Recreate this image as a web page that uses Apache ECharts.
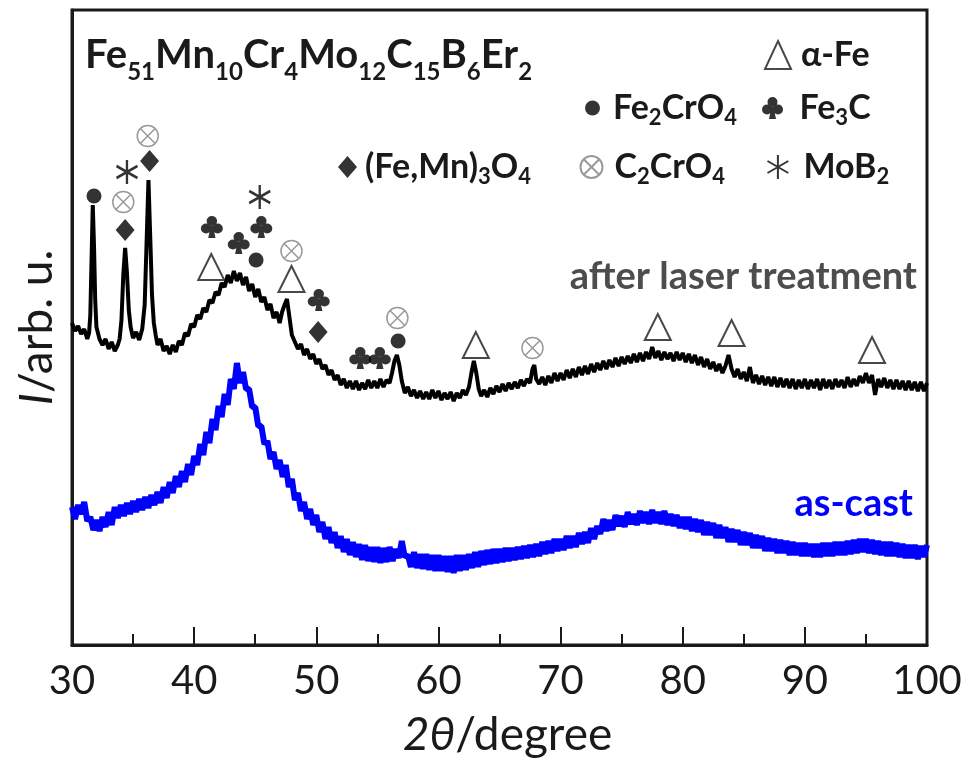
<!DOCTYPE html>
<html>
<head>
<meta charset="utf-8">
<script src="https://cdn.jsdelivr.net/npm/echarts@6/dist/echarts.min.js"></script>
<style>html,body{margin:0;padding:0;background:#fff}#c{width:968px;height:767px}</style>
</head>
<body>
<div id="c"></div>
<script>
// 2θ (degree) vs intensity (arb. units) — after laser treatment
const laser = [
[30.00,322],[30.25,314],[30.50,319],[30.75,311],[31.00,316],[31.25,306],[31.40,312],[31.50,330],[31.60,385],[31.70,440],[31.80,400],[31.90,345],[32.00,318],
[32.25,306],[32.50,300],[32.75,306],[33.00,296],[33.25,303],[33.50,294],[33.75,300],[33.90,306],[34.05,325],[34.20,370],[34.35,397],[34.50,372],[34.65,335],
[34.80,318],[35.00,307],[35.25,313],[35.50,305],[35.75,316],[35.95,340],[36.10,400],[36.26,465],[36.40,410],[36.55,350],[36.70,322],
[36.85,310],[37.00,300],[37.25,306],[37.50,294],[37.75,299],[38.00,291],[38.25,300],[38.50,293],[38.75,304],
[39.00,300],[39.25,312],[39.50,309],[39.75,321],[40.00,318],[40.25,330],[40.50,326],[40.75,337],
[41.00,333],[41.25,345],[41.50,342],[41.75,353],[42.00,350],[42.25,362],[42.50,358],[42.75,370],
[43.00,362],[43.25,374],[43.50,364],[43.75,372],[44.00,360],[44.25,368],[44.50,354],[44.75,361],
[45.00,348],[45.25,356],[45.50,343],[45.75,348],[46.00,335],[46.25,341],[46.50,327],[46.75,333],
[47.00,322],[47.20,333],[47.40,340],[47.60,346],[47.80,328],[48.00,310],[48.25,303],[48.50,296],[48.75,301],
[49.00,290],[49.25,296],[49.50,286],[49.75,291],[50.00,281],[50.25,286],[50.50,276],[50.75,280],
[51.00,270],[51.25,275],[51.50,265],[51.75,270],[52.00,260],[52.25,266],[52.50,257],[52.75,264],
[53.00,256],[53.25,264],[53.50,255],[53.75,262],[54.00,256],[54.25,265],[54.50,257],[54.75,264],
[55.00,257],[55.25,266],[55.50,258],[55.75,265],[56.00,262],[56.20,272],[56.40,284],[56.60,290],[56.80,280],
[57.00,264],[57.25,252],[57.50,258],[57.75,249],[58.00,255],[58.25,247],[58.50,254],[58.75,246],
[59.00,253],[59.25,246],[59.50,255],[59.75,247],[60.00,254],[60.25,245],[60.50,252],[60.75,246],
[61.00,253],[61.25,244],[61.50,252],[61.75,247],[62.00,255],[62.25,250],[62.50,258],[62.70,272],[62.90,284],[63.10,272],
[63.30,256],[63.50,249],[63.75,255],[64.00,248],[64.25,257],[64.50,251],[64.75,259],[65.00,253],
[65.25,261],[65.50,254],[65.75,262],[66.00,256],[66.25,263],[66.50,257],[66.75,265],[67.00,259],
[67.25,266],[67.50,262],[67.70,276],[67.85,280],[68.00,266],[68.25,261],[68.50,268],[68.75,260],[69.00,269],
[69.25,262],[69.50,272],[69.75,264],[70.00,272],[70.25,265],[70.50,275],[70.75,267],[71.00,276],
[71.25,268],[71.50,278],[71.75,270],[72.00,279],[72.25,271],[72.50,281],[72.75,273],[73.00,282],
[73.25,275],[73.50,284],[73.75,276],[74.00,285],[74.25,278],[74.50,287],[74.75,279],[75.00,288],
[75.25,281],[75.50,289],[75.75,282],[76.00,291],[76.25,283],[76.50,292],[76.75,284],[77.00,293],
[77.25,286],[77.50,298],[77.75,287],[78.00,294],[78.25,285],[78.50,293],[78.75,286],[79.00,292],
[79.25,284],[79.50,293],[79.75,285],[80.00,292],[80.25,283],[80.50,291],[80.75,282],[81.00,290],
[81.25,280],[81.50,288],[81.75,278],[82.00,286],[82.25,276],[82.50,283],[82.75,274],[83.00,281],
[83.25,272],[83.50,279],[83.75,290],[84.00,276],[84.25,268],[84.50,276],[84.75,266],[85.00,273],
[85.25,264],[85.50,278],[85.75,262],[86.00,270],[86.25,261],[86.50,269],[86.75,260],[87.00,268],
[87.25,259],[87.50,268],[87.75,258],[88.00,267],[88.25,258],[88.50,266],[88.75,257],[89.00,266],
[89.25,256],[89.50,265],[89.75,257],[90.00,266],[90.25,256],[90.50,265],[90.75,257],[91.00,266],
[91.25,255],[91.50,266],[91.75,257],[92.00,265],[92.25,256],[92.50,266],[92.75,258],[93.00,265],
[93.25,257],[93.50,268],[93.75,258],[94.00,266],[94.25,259],[94.50,269],[94.75,262],[95.00,272],
[95.25,262],[95.50,270],[95.75,250],[96.00,266],[96.25,258],[96.50,267],[96.75,257],[97.00,265],
[97.25,256],[97.50,265],[97.75,256],[98.00,264],[98.25,255],[98.50,264],[98.75,255],[99.00,263],
[99.25,254],[99.50,263],[99.75,254],[100.00,262]
];

// as-cast
const asCast = [
[30.00,138],[30.25,126],[30.50,140],[30.75,131],[31.00,143],[31.25,124],[31.50,128],[31.75,115],
[32.00,125],[32.25,114],[32.50,128],[32.75,118],[33.00,133],[33.25,120],[33.50,138],[33.75,127],
[34.00,140],[34.25,129],[34.50,142],[34.75,131],[35.00,144],[35.25,133],[35.50,146],[35.75,135],
[36.00,148],[36.25,137],[36.50,150],[36.75,140],[37.00,153],[37.25,142],[37.50,158],[37.75,147],
[38.00,163],[38.25,152],[38.50,169],[38.75,158],[39.00,174],[39.25,163],[39.50,181],[39.75,170],
[40.00,189],[40.25,180],[40.50,201],[40.75,190],[41.00,213],[41.25,202],[41.50,226],[41.75,215],
[42.00,239],[42.25,228],[42.50,251],[42.75,240],[43.00,266],[43.25,256],[43.50,282],[43.75,262],
[44.00,273],[44.25,256],[44.50,256],[44.75,238],[45.00,238],[45.25,219],[45.50,219],[45.75,201],
[46.00,204],[46.25,186],[46.50,193],[46.75,176],[47.00,185],[47.25,168],[47.50,180],[47.75,158],
[48.00,166],[48.25,145],[48.50,152],[48.75,134],[49.00,143],[49.25,126],[49.50,136],[49.75,120],
[50.00,130],[50.25,113],[50.50,123],[50.75,106],[51.00,118],[51.25,102],[51.50,113],[51.75,97],
[52.00,109],[52.25,93],[52.50,106],[52.75,90],[53.00,103],[53.25,88],[53.50,101],[53.75,85],
[54.00,100],[54.25,84],[54.50,98],[54.75,83],[55.00,98],[55.25,82],[55.50,97],[55.75,83],
[56.00,98],[56.25,84],[56.50,96],[56.75,87],[57.00,104],[57.25,88],[57.50,90],[57.75,78],
[58.00,93],[58.25,77],[58.50,91],[58.75,76],[59.00,91],[59.25,75],[59.50,90],[59.75,74],
[60.00,90],[60.25,74],[60.50,89],[60.75,73],[61.00,89],[61.25,72],[61.50,90],[61.75,74],
[62.00,90],[62.25,75],[62.50,91],[62.75,77],[63.00,93],[63.25,78],[63.50,94],[63.75,80],
[64.00,95],[64.25,81],[64.50,96],[64.75,82],[65.00,96],[65.25,83],[65.50,97],[65.75,84],
[66.00,97],[66.25,85],[66.50,98],[66.75,86],[67.00,99],[67.25,87],[67.50,100],[67.75,88],
[68.00,101],[68.25,89],[68.50,103],[68.75,91],[69.00,104],[69.25,92],[69.50,106],[69.75,94],
[70.00,106],[70.25,95],[70.50,109],[70.75,97],[71.00,109],[71.25,98],[71.50,112],[71.75,101],
[72.00,113],[72.25,102],[72.50,117],[72.75,106],[73.00,119],[73.25,111],[73.50,126],[73.75,114],
[74.00,125],[74.25,115],[74.50,130],[74.75,119],[75.00,129],[75.25,118],[75.50,133],[75.75,121],
[76.00,131],[76.25,120],[76.50,134],[76.75,122],[77.00,133],[77.25,121],[77.50,135],[77.75,122],
[78.00,133],[78.25,121],[78.50,134],[78.75,120],[79.00,131],[79.25,119],[79.50,130],[79.75,117],
[80.00,128],[80.25,116],[80.50,128],[80.75,114],[81.00,126],[81.25,113],[81.50,125],[81.75,110],
[82.00,123],[82.25,110],[82.50,122],[82.75,107],[83.00,120],[83.25,107],[83.50,118],[83.75,103],
[84.00,116],[84.25,103],[84.50,115],[84.75,100],[85.00,113],[85.25,100],[85.50,112],[85.75,97],
[86.00,110],[86.25,97],[86.50,109],[86.75,94],[87.00,107],[87.25,94],[87.50,106],[87.75,92],
[88.00,105],[88.25,92],[88.50,104],[88.75,90],[89.00,103],[89.25,90],[89.50,102],[89.75,89],
[90.00,102],[90.25,89],[90.50,101],[90.75,88],[91.00,101],[91.25,88],[91.50,102],[91.75,89],
[92.00,102],[92.25,89],[92.50,103],[92.75,90],[93.00,103],[93.25,90],[93.50,104],[93.75,91],
[94.00,105],[94.25,92],[94.50,106],[94.75,93],[95.00,106],[95.25,92],[95.50,105],[95.75,91],
[96.00,104],[96.25,90],[96.50,103],[96.75,89],[97.00,103],[97.25,89],[97.50,102],[97.75,88],
[98.00,101],[98.25,87],[98.50,100],[98.75,87],[99.00,100],[99.25,86],[99.50,99],[99.75,88],[100.00,100]
];

// phase markers [2θ, height]
const alphaFe  = [[41.4,378],[47.97,366],[63.06,300],[77.96,318],[84.0,312],[95.5,295]];
const fe2cro4  = [[31.8,449],[45.07,385],[56.7,304]];
const fe3c     = [[41.45,418],[43.65,402],[45.5,418],[50.2,345],[53.6,287],[55.2,287]];
const femn3o4  = [[34.35,415],[36.35,484],[50.15,313]];
const c2cro4   = [[34.2,443],[36.2,509],[47.97,394],[56.64,327],[67.7,297]];
const mob2     = [[34.5,473],[45.37,448]];

const xTicks = [30,40,50,60,70,80,90,100];
const phaseNames = ['α-Fe','Fe2CrO4','Fe3C','(Fe,Mn)3O4','C2CrO4','MoB2'];
const formula = 'Fe51Mn10Cr4Mo12C15B6Er2';

const FONT = 'Lato';
function subRich(s){
  return s.split(/(\d+)/).filter(p=>p.length).map(p=>/^\d+$/.test(p)?'{s|'+p+'}':'{m|'+p+'}').join('');
}
const CLUB = 'path://M7,6 A5,5 0 1,1 17,6 A5,5 0 1,1 7,6 Z M1.5,13.5 A5,5 0 1,1 11.5,13.5 A5,5 0 1,1 1.5,13.5 Z M12.5,13.5 A5,5 0 1,1 22.5,13.5 A5,5 0 1,1 12.5,13.5 Z M11,11 L13,11 L15.5,23 L8.5,23 Z';
const OTIMES = 'path://M0,10 A10,10 0 1,1 20,10 A10,10 0 1,1 0,10 Z M2.93,2.93 L17.07,17.07 M17.07,2.93 L2.93,17.07';
const ASTER = 'path://M12,0 L12,24 M1.6,6 L22.4,18 M22.4,6 L1.6,18';

const legRich = {
  m:{fontFamily:FONT,fontSize:34,fontWeight:'bold',lineHeight:42,color:'#1a1a1a'},
  s:{fontFamily:FONT,fontSize:22,fontWeight:'bold',lineHeight:22,verticalAlign:'bottom',color:'#1a1a1a'}
};
function leg(name,left,top,w,h,padL){
  return {data:[name],left:left,top:top,itemWidth:w,itemHeight:h,padding:0,
    formatter:subRich,textStyle:{rich:legRich,padding:[0,0,0,padL]},selectedMode:false};
}

const chart = echarts.init(document.getElementById('c'));
chart.setOption({
  animation:false,
  backgroundColor:'#fff',
  grid:{left:72,right:41,top:10,bottom:122,show:true,borderColor:'#1a1a1a',borderWidth:3},
  title:[
    {text:subRich(formula),left:85,top:27,padding:0,textStyle:{rich:{
      m:{fontFamily:FONT,fontSize:40,fontWeight:'bold',lineHeight:57,color:'#1a1a1a'},
      s:{fontFamily:FONT,fontSize:24,fontWeight:'bold',lineHeight:24,verticalAlign:'bottom',color:'#1a1a1a'}}}},
    {text:'after laser treatment',right:51,top:257,padding:0,textStyle:{fontFamily:FONT,fontSize:38,fontWeight:'bold',lineHeight:40,color:'#4d4d4d'}},
    {text:'as-cast',right:55,top:484,padding:0,textStyle:{fontFamily:FONT,fontSize:38,fontWeight:'bold',lineHeight:40,color:'#0000ff'}}
  ],
  legend:[
    leg('α-Fe',764,38,26,28,5),
    leg('Fe2CrO4',585,91,15,15,8),
    leg('Fe3C',762,91,22,22,11),
    leg('(Fe,Mn)3O4',338,150,19,22,3),
    leg('C2CrO4',578,150,22,22,7),
    leg('MoB2',765,150,21,24,10)
  ],
  xAxis:{type:'value',min:xTicks[0],max:xTicks[xTicks.length-1],interval:10,
    name:'{i|2θ}/degree',nameLocation:'middle',nameGap:67,
    nameTextStyle:{fontFamily:FONT,fontSize:46,color:'#1a1a1a',padding:[0,0,0,16],
      rich:{i:{fontFamily:FONT,fontSize:46,fontStyle:'italic',color:'#1a1a1a'}}},
    axisLine:{show:true,lineStyle:{color:'#1a1a1a',width:3}},
    axisTick:{show:true,inside:true,length:18,lineStyle:{color:'#1a1a1a',width:2}},
    minorTick:{show:true,splitNumber:2,length:11,lineStyle:{color:'#1a1a1a',width:2}},
    axisLabel:{fontFamily:FONT,fontSize:40,color:'#1a1a1a',margin:16},
    splitLine:{show:false}},
  yAxis:{type:'value',min:0,max:635,
    name:'{i|I}/arb. u.',nameLocation:'middle',nameGap:12,nameRotate:90,
    nameTextStyle:{fontFamily:FONT,fontSize:46,color:'#1a1a1a',
      rich:{i:{fontFamily:FONT,fontSize:46,fontStyle:'italic',color:'#1a1a1a'}}},
    axisLine:{show:true,lineStyle:{color:'#1a1a1a',width:3}},
    axisTick:{show:false},axisLabel:{show:false},splitLine:{show:false}},
  series:[
    {type:'line',name:'after laser treatment',data:laser,showSymbol:false,symbol:'none',lineStyle:{color:'#000',width:4,join:'bevel'},z:2,silent:true},
    {type:'line',name:'as-cast',data:asCast,showSymbol:false,symbol:'none',lineStyle:{color:'#0000ff',width:6,join:'bevel'},z:2,silent:true},
    {type:'scatter',name:'α-Fe',data:alphaFe,symbol:'triangle',symbolSize:[26,26],itemStyle:{color:'#fff',borderColor:'#1a1a1a',borderWidth:2},z:5},
    {type:'scatter',name:'Fe2CrO4',data:fe2cro4,symbol:'circle',symbolSize:15,itemStyle:{color:'#000'},z:5},
    {type:'scatter',name:'Fe3C',data:fe3c,symbol:CLUB,symbolSize:22,itemStyle:{color:'#000'},z:5},
    {type:'scatter',name:'(Fe,Mn)3O4',data:femn3o4,symbol:'diamond',symbolSize:[19,22],itemStyle:{color:'#000'},z:5},
    {type:'scatter',name:'C2CrO4',data:c2cro4,symbol:OTIMES,symbolSize:21,itemStyle:{color:'none',borderColor:'#808080',borderWidth:1.5},z:5},
    {type:'scatter',name:'MoB2',data:mob2,symbol:ASTER,symbolSize:[21,24],itemStyle:{color:'none',borderColor:'#000',borderWidth:2.5},z:5}
  ]
});
</script>
</body>
</html>
